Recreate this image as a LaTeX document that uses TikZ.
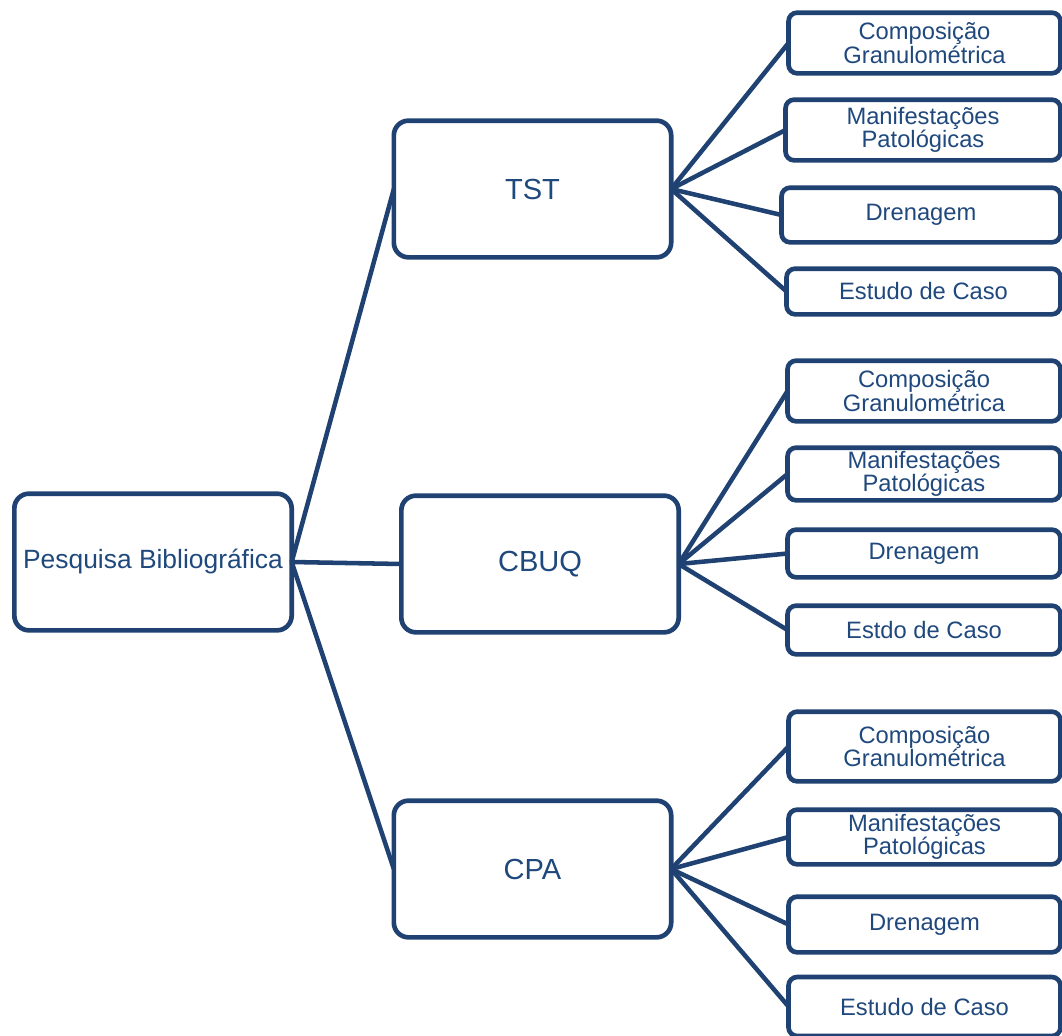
\documentclass[tikz,border=0pt]{standalone}
\usepackage{fontspec}
\setmainfont{Liberation Sans}
\definecolor{lc}{RGB}{31,66,114}
\definecolor{tc}{RGB}{31,72,124}
\begin{document}
\begin{tikzpicture}[x=0.75pt,y=-0.75pt,
  bigbox/.style={draw=lc,line width=3.5pt,rounded corners=11pt,inner sep=0pt,outer sep=0pt,
    minimum width=208pt,minimum height=102.5pt,text=tc,align=center},
  smallbox/.style={draw=lc,line width=3.5pt,rounded corners=6.5pt,inner sep=0pt,outer sep=0pt,
    text=tc,align=center,font=\fontsize{17.8pt}{17.5pt}\selectfont},
  link/.style={draw=lc,line width=3.4pt}]
\useasboundingbox (0,0) rectangle (1062,1035);
\clip (0,0) rectangle (1062,1035);
% main boxes
\node[bigbox,font=\fontsize{19.8pt}{22pt}\selectfont] (P) at (153,562) {Pesquisa Bibliográfica};
\node[bigbox,font=\fontsize{21.8pt}{24pt}\selectfont] (T) at (532.5,189) {TST};
\node[bigbox,font=\fontsize{21.8pt}{24pt}\selectfont] (C) at (540,564) {CBUQ};
\node[bigbox,font=\fontsize{21.8pt}{24pt}\selectfont] (A) at (532.5,869) {CPA};
% group 1
\node[smallbox,minimum width=204pt,minimum height=45.5pt] (c1) at (924.5,43) {Composição\\Granulométrica};
\node[smallbox,minimum width=206.25pt,minimum height=45.5pt] (m1) at (923,130) {Manifestações\\Patológicas};
\node[smallbox,minimum width=209.25pt,minimum height=41pt] (d1) at (921,215) {Drenagem};
\node[smallbox,minimum width=205.5pt,minimum height=34.25pt] (e1) at (923.5,291.5) {Estudo de Caso};
% group 2
\node[smallbox,minimum width=204.75pt,minimum height=45.5pt] (c2) at (924,391) {Composição\\Granulométrica};
\node[smallbox,minimum width=204.75pt,minimum height=39.5pt] (m2) at (924,474) {Manifestações\\Patológicas};
\node[smallbox,minimum width=204.75pt,minimum height=35.75pt] (d2) at (924,553.5) {Drenagem};
\node[smallbox,minimum width=204.75pt,minimum height=36.5pt] (e2) at (924,630) {Estdo de Caso};
% group 3
\node[smallbox,minimum width=204pt,minimum height=52.25pt] (c3) at (924.5,746.5) {Composição\\Granulométrica};
\node[smallbox,minimum width=204pt,minimum height=41pt] (m3) at (924.5,837) {Manifestações\\Patológicas};
\node[smallbox,minimum width=204pt,minimum height=41.75pt] (d3) at (924.5,924.5) {Drenagem};
\node[smallbox,minimum width=204pt,minimum height=44.25pt] (e3) at (924.5,1006.5) {Estudo de Caso};
% connectors
\draw[link] (P.east) -- (T.west);
\draw[link] (P.east) -- (C.west);
\draw[link] (P.east) -- (A.west);
\foreach \n in {c1,m1,d1,e1} \draw[link] (T.east) -- (\n.west);
\foreach \n in {c2,m2,d2,e2} \draw[link] (C.east) -- (\n.west);
\foreach \n in {c3,m3,d3,e3} \draw[link] (A.east) -- (\n.west);
\end{tikzpicture}
\end{document}
